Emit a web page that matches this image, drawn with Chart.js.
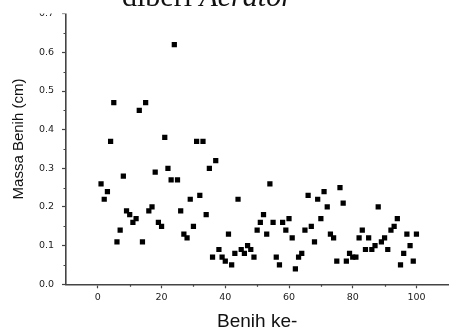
<!DOCTYPE html>
<html>
<head>
<meta charset="utf-8">
<script src="https://cdn.jsdelivr.net/npm/chart.js@4/dist/chart.umd.min.js"></script>
<style>
  html, body { margin: 0; padding: 0; background: #fff; }
  #wrap { width: 452px; height: 329px; }
</style>
</head>
<body>
<div id="wrap"><canvas id="c" width="452" height="329"></canvas></div>
<script>
// ---- data ----
const massaBenih = [
  0.26, 0.22, 0.24, 0.37, 0.47, 0.11, 0.14, 0.28, 0.19, 0.18,
  0.16, 0.17, 0.45, 0.11, 0.47, 0.19, 0.20, 0.29, 0.16, 0.15,
  0.38, 0.30, 0.27, 0.62, 0.27, 0.19, 0.13, 0.12, 0.22, 0.15,
  0.37, 0.23, 0.37, 0.18, 0.30, 0.07, 0.32, 0.09, 0.07, 0.06,
  0.13, 0.05, 0.08, 0.22, 0.09, 0.08, 0.10, 0.09, 0.07, 0.14,
  0.16, 0.18, 0.13, 0.26, 0.16, 0.07, 0.05, 0.16, 0.14, 0.17,
  0.12, 0.04, 0.07, 0.08, 0.14, 0.23, 0.15, 0.11, 0.22, 0.17,
  0.24, 0.20, 0.13, 0.12, 0.06, 0.25, 0.21, 0.06, 0.08, 0.07,
  0.07, 0.12, 0.14, 0.09, 0.12, 0.09, 0.10, 0.20, 0.11, 0.12,
  0.09, 0.14, 0.15, 0.17, 0.05, 0.08, 0.13, 0.10, 0.06, 0.13
];
const benihKe = massaBenih.map((_, i) => i + 1);   // seed index 1..100
const xTicks = [0, 20, 40, 60, 80, 100];
const xMinorTicks = [10, 30, 50, 70, 90];
const yTicks = [0.0, 0.1, 0.2, 0.3, 0.4, 0.5, 0.6, 0.7];
const yMinorTicks = [0.05, 0.15, 0.25, 0.35, 0.45, 0.55, 0.65];
const titlePlain = 'diberi ';
const titleItalic = 'Aerator';
const xTitle = 'Benih ke-';
const yTitle = 'Massa Benih (cm)';

const points = benihKe.map((x, i) => ({ x: x, y: massaBenih[i] }));
const AXIS = '#444';

const extras = {
  id: 'extras',
  afterDraw(chart) {
    const ctx = chart.ctx;
    const xs = chart.scales.x, ys = chart.scales.y;
    ctx.save();
    // minor ticks
    ctx.strokeStyle = AXIS;
    ctx.lineWidth = 1.2;
    const bottom = chart.chartArea.bottom, left = chart.chartArea.left;
    ctx.beginPath();
    xMinorTicks.forEach(v => {
      const px = Math.round(xs.getPixelForValue(v)) + 0.5;
      ctx.moveTo(px, bottom); ctx.lineTo(px, bottom + 2.5);
    });
    yMinorTicks.forEach(v => {
      const py = Math.round(ys.getPixelForValue(v)) + 0.5;
      ctx.moveTo(left, py); ctx.lineTo(left - 2.5, py);
    });
    ctx.stroke();
    // white band at top (reference is cropped there)
    ctx.fillStyle = '#fff';
    ctx.fillRect(0, 0, chart.width, 13.5);
    // title
    ctx.fillStyle = '#111';
    ctx.textBaseline = 'alphabetic';
    ctx.textAlign = 'left';
    ctx.font = '30px "Liberation Serif", "Times New Roman", serif';
    const w1 = ctx.measureText(titlePlain).width;
    ctx.fillText(titlePlain, 122, 6);
    ctx.font = 'italic 30px "Liberation Serif", "Times New Roman", serif';
    ctx.fillText(titleItalic, 122 + w1, 6);
    // x axis title
    ctx.font = '19px "Liberation Sans", Arial, sans-serif';
    ctx.textAlign = 'center';
    ctx.fillText(xTitle, (chart.chartArea.left + chart.chartArea.right) / 2, 326.5);
    // y axis title
    ctx.translate(23, 139);
    ctx.rotate(-Math.PI / 2);
    ctx.font = '15px "Liberation Sans", Arial, sans-serif';
    ctx.textAlign = 'center';
    ctx.fillText(yTitle, 0, 0);
    ctx.restore();
  }
};

new Chart(document.getElementById('c'), {
  type: 'scatter',
  data: {
    datasets: [{
      data: points,
      pointStyle: 'rect',
      pointRadius: 3.7,
      pointHoverRadius: 3.7,
      pointBorderWidth: 0,
      backgroundColor: '#000',
      borderColor: '#000'
    }]
  },
  options: {
    responsive: false,
    devicePixelRatio: 1,
    animation: false,
    events: [],
    layout: { padding: { top: 12.9, right: 0, left: 0, bottom: 0 } },
    plugins: { legend: { display: false }, tooltip: { enabled: false }, title: { display: false } },
    scales: {
      x: {
        type: 'linear',
        min: -10, max: 110,
        afterFit: s => { s.height = 44.7; },
        afterBuildTicks: s => { s.ticks = xTicks.map(v => ({ value: v })); },
        ticks: {
          color: '#222',
          font: { family: '"DejaVu Sans", sans-serif', size: 9.5 },
          padding: 4,
          maxRotation: 0,
          callback: v => String(v)
        },
        grid: { display: true, drawOnChartArea: false, drawTicks: true, tickLength: 4, color: AXIS, tickWidth: 1.2 },
        border: { display: true, color: AXIS, width: 1.6 }
      },
      y: {
        type: 'linear',
        min: 0, max: 0.7,
        afterFit: s => { s.width = 66; },
        afterBuildTicks: s => { s.ticks = yTicks.map(v => ({ value: v })); },
        ticks: {
          color: '#222',
          font: { family: '"DejaVu Sans", sans-serif', size: 9.5 },
          padding: 8,
          callback: v => Number(v).toFixed(1)
        },
        grid: { display: true, drawOnChartArea: false, drawTicks: true, tickLength: 4, color: AXIS, tickWidth: 1.2 },
        border: { display: true, color: AXIS, width: 1.6 }
      }
    }
  },
  plugins: [extras]
});
</script>
</body>
</html>
